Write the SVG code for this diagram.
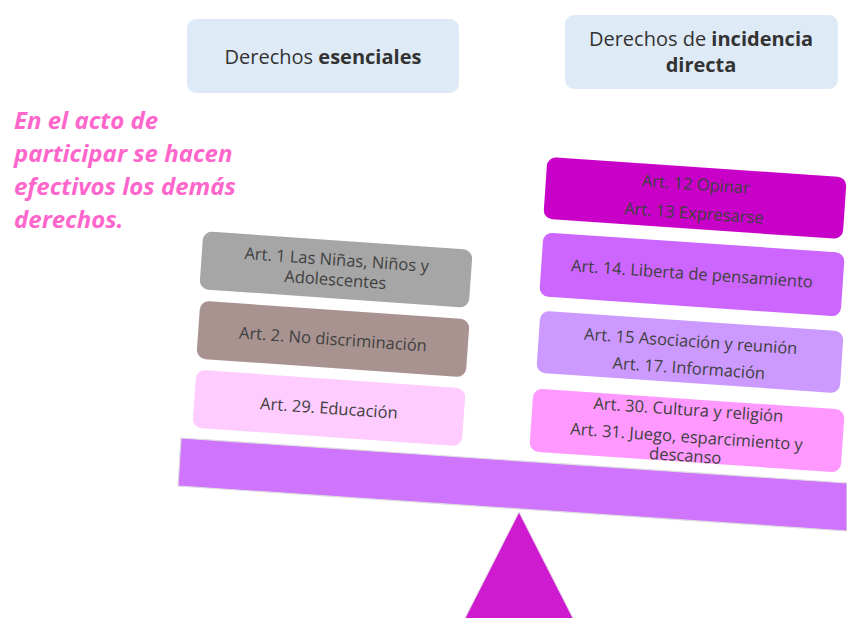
<svg xmlns="http://www.w3.org/2000/svg" width="847" height="618" viewBox="0 0 847 618">
<style>
.hdr{fill:#deeaf6}
.ht{font-family:"Open Sans","Noto Sans",sans-serif;font-size:20px;fill:#333333;text-anchor:middle}
.b{font-weight:bold}
.bt{font-family:"Open Sans","Noto Sans",sans-serif;font-size:16.5px;fill:#404040;text-anchor:middle}
.pk{font-family:"Open Sans","Noto Sans",sans-serif;font-size:24px;font-weight:bold;font-style:italic;fill:#ff66cc}
</style>
<rect width="847" height="618" fill="#ffffff"/>
<g id="header-esenciales">
<rect class="hdr" x="187" y="19" width="272" height="74" rx="9"/>
<text class="ht" x="323" y="64">Derechos <tspan class="b">esenciales</tspan></text>
</g>
<g id="header-incidencia">
<rect class="hdr" x="565" y="15" width="273" height="74" rx="9"/>
<text class="ht" x="701" y="46">Derechos de <tspan class="b">incidencia</tspan></text>
<text class="ht b" x="701" y="72">directa</text>
</g>
<g id="nota">
<text class="pk" x="14" y="129">En el acto de</text>
<text class="pk" x="14" y="162">participar se hacen</text>
<text class="pk" x="14" y="195">efectivos los demás</text>
<text class="pk" x="14" y="228">derechos.</text>
</g>
<g id="fulcro">
<polygon points="519,512 459,630 579,630" fill="#cf1bcf" stroke="#e6d6e6" stroke-width="1"/>
</g>
<g id="barra">
<polygon points="181,438 847,483 847,531 178,486" fill="#cf75fd" stroke="#dedede" stroke-width="1.2"/>
</g>
<g id="art1" transform="translate(336,269.5) rotate(4)">
<rect x="-135" y="-29" width="270" height="58" rx="9" fill="#a6a6a6"/>
<text class="bt" x="0" y="-4">Art. 1 Las Niñas, Niños y</text>
<text class="bt" x="0" y="16">Adolescentes</text>
</g>
<g id="art2" transform="translate(333,339) rotate(4)">
<rect x="-135" y="-29" width="270" height="58" rx="9" fill="#a89391"/>
<text class="bt" x="0" y="6">Art. 2. No discriminación</text>
</g>
<g id="art29" transform="translate(329,408) rotate(4)">
<rect x="-135" y="-29" width="270" height="58" rx="9" fill="#ffccff"/>
<text class="bt" x="0" y="6">Art. 29. Educación</text>
</g>
<g id="art12-13" transform="translate(695,198) rotate(3.9)">
<rect x="-150" y="-31" width="300" height="62" rx="9" fill="#c800c8"/>
<text class="bt" x="0" y="-8">Art. 12 Opinar</text>
<text class="bt" x="0" y="21">Art. 13 Expresarse</text>
</g>
<g id="art14" transform="translate(692,274.5) rotate(3.9)">
<rect x="-151" y="-32" width="302" height="64" rx="9" fill="#cc66ff"/>
<text class="bt" x="0" y="5">Art. 14. Liberta de pensamiento</text>
</g>
<g id="art15-17" transform="translate(690,352) rotate(3.9)">
<rect x="-152" y="-31" width="304" height="62" rx="9" fill="#cc99ff"/>
<text class="bt" x="0" y="-5">Art. 15 Asociación y reunión</text>
<text class="bt" x="0" y="22">Art. 17. Información</text>
</g>
<g id="art30-31" transform="translate(687,430.5) rotate(3.9)">
<rect x="-156" y="-31.5" width="312" height="63" rx="9" fill="#ff99ff"/>
<text class="bt" x="0" y="-15">Art. 30. Cultura y religión</text>
<text class="bt" x="0" y="12">Art. 31. Juego, esparcimiento y</text>
<text class="bt" x="0" y="31">descanso</text>
</g>
<g id="connectors"/>
</svg>
